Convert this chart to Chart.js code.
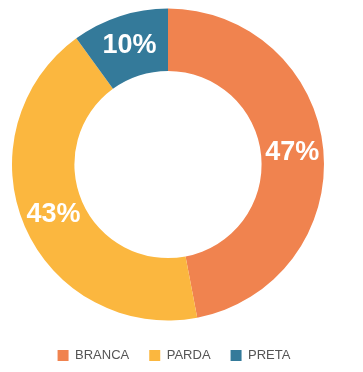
<!DOCTYPE html>
<html>
<head>
<meta charset="utf-8">
<script src="https://cdn.jsdelivr.net/npm/chart.js@4/dist/chart.umd.min.js"></script>
<style>
  html, body { margin: 0; padding: 0; background: #fff; }
  #wrap { width: 363px; height: 372px; position: relative; }
</style>
</head>
<body>
<div id="wrap"><canvas id="chart"></canvas></div>
<script>
'use strict';
var categories = ['BRANCA', 'PARDA', 'PRETA'];
var shares = [47, 43, 10];
var colors = ['#F0834F', '#FBB73F', '#347A9A'];

// draws the percent inside each slice
var sliceLabels = {
    id: 'sliceLabels',
    afterDatasetsDraw: function (chart) {
        var ctx = chart.ctx;
        var meta = chart.getDatasetMeta(0);
        ctx.save();
        ctx.fillStyle = '#fff';
        ctx.font = 'bold 27px "Liberation Sans", Arial, sans-serif';
        ctx.textAlign = 'center';
        ctx.textBaseline = 'middle';
        meta.data.forEach(function (arc, i) {
            var p = arc.tooltipPosition();
            ctx.fillText(shares[i] + '%', p.x, p.y);
        });
        ctx.restore();
    }
};

// nudge the legend a bit lower and to the right
var legendNudge = {
    id: 'legendNudge',
    afterLayout: function (chart) {
        var lg = chart.legend;
        if (!lg) return;
        lg.top += 8; lg.bottom += 8;
        lg.left += 6; lg.right += 6;
    }
};

new Chart(document.getElementById('chart'), {
    type: 'doughnut',
    data: {
        labels: categories,
        datasets: [{
            data: shares,
            backgroundColor: colors,
            borderWidth: 0
        }]
    },
    options: {
        responsive: true,
        maintainAspectRatio: false,
        animation: false,
        cutout: '60%',
        layout: { padding: { top: 8, left: 12, right: 39, bottom: 8 } },
        plugins: {
            tooltip: { enabled: false },
            legend: {
                position: 'bottom',
                labels: {
                    boxWidth: 11,
                    boxHeight: 11,
                    padding: 20,
                    color: '#555',
                    font: { family: '"Liberation Sans", Arial, sans-serif', size: 13 }
                }
            }
        }
    },
    plugins: [sliceLabels, legendNudge]
});
</script>
</body>
</html>
